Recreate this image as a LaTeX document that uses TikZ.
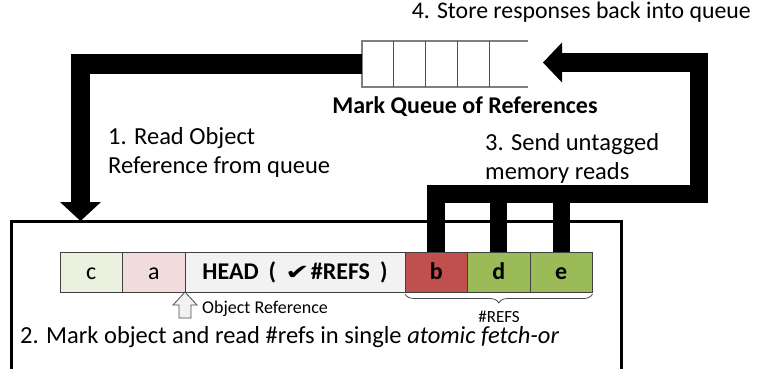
\documentclass[tikz,border=0pt]{standalone}
\usepackage{fontspec}
\setmainfont{Carlito}
\newfontfamily\symfont{DejaVu Sans}
\usetikzlibrary{positioning, arrows.meta, decorations.pathreplacing}

\definecolor{cellgreen}{HTML}{EBF1DE}
\definecolor{cellpink}{HTML}{F2DCDB}
\definecolor{cellgray}{HTML}{F2F2F2}
\definecolor{refred}{HTML}{C0504D}
\definecolor{refgreen}{HTML}{9BBB59}
\definecolor{qgray}{HTML}{7F7F7F}

\begin{document}
\begin{tikzpicture}[
    x=1pt, y=-1pt,
    every node/.style={font=\fontsize{24.5}{29}\selectfont, inner sep=0pt},
    cell/.style={draw=black!75, line width=1pt, minimum height=40pt, minimum width=62.5pt,
                 inner sep=0pt, outer sep=0pt, text height=15pt, text depth=0pt,
                 font=\fontsize{24}{28}\selectfont},
    boldcell/.style={cell, font={\fontsize{24}{28}\selectfont\bfseries}},
    band/.style={line width=19pt},
    bighead/.style={-{Triangle[length=19pt,width=41pt,line width=0pt]}},
    qline/.style={draw=qgray, line width=1.5pt}
]
\useasboundingbox (0,0) rectangle (757,369);

% ========== queue of references ==========
\node[minimum width=166pt, minimum height=46pt, inner sep=0pt, outer sep=0pt, anchor=west] (queue) at (362,64) {};
\draw[qline] (queue.north east) -- (queue.north west) -- (queue.south west) -- (queue.south east);
\foreach \x in {393,425,457,489} {
    \draw[qline, draw=black!70, line width=1pt] (\x,41) -- (\x,87);
}
\node[anchor=base, font={\fontsize{24}{28}\selectfont\bfseries}] (qlabel) at (465,113) {Mark Queue of References};

% ========== object in memory ==========
\draw[line width=3pt] (11,369) |- (621,221) -- (621,369);

\node[cell, fill=cellgreen, anchor=west] (c) at (60,272) {c};
\node[cell, fill=cellpink, right=0pt of c] (a) {a};
\node[boldcell, fill=cellgray, minimum width=220pt, right=0pt of a] (head)
    {HEAD\hspace{10pt}(\hspace{9pt}\scalebox{1.4}[1]{\symfont\fontsize{21}{24}\selectfont ✔}\hspace{1pt}\#REFS\hspace{10pt})};
\node[boldcell, fill=refred, right=0pt of head] (b) {b};
\node[boldcell, fill=refgreen, right=0pt of b] (d) {d};
\node[boldcell, fill=refgreen, right=0pt of d] (e) {e};

% object reference pointer
\draw[fill=cellgray, draw=black!70, line width=0.8pt] (a.south east) -- ++(12,13) -- ++(-6,0) -- ++(0,13)
    -- ++(-12,0) -- ++(0,-13) -- ++(-6,0) -- cycle;
\node[anchor=base west, font=\fontsize{18}{22}\selectfont] (objref) at (202,313) {Object Reference};

% #REFS brace
\draw[decorate, decoration={brace, mirror, amplitude=9pt}, draw=black!70, line width=0.8pt]
    ([yshift=-2pt]b.south west) -- ([yshift=-2pt]e.south east);
\node[anchor=base, font=\fontsize{17}{20}\selectfont] (refs) at (499,322) {\#REFS};

% ========== steps ==========
\coordinate (boxtop) at (80.5,221);
\draw[band, bighead] (queue.west) -| (boxtop);
\node[anchor=base west, align=left] (step1) at (108,173) {1. Read Object\\Reference from queue};

\node[anchor=base west] (step2) at (20,343) {2. Mark object and read \#refs in single \textit{atomic fetch-or}};

\coordinate (bus) at (699,193.5);
\coordinate (qin) at (543,62.5);
\draw[band, line width=18pt, -{Triangle[length=19pt,width=40pt,line width=0pt]}] (b.north) |- (bus) |- (qin);
\foreach \n in {d,e} {
    \draw[band, line width=17pt] (\n.north) -- (\n.north |- bus);
}
\node[anchor=base west, align=left] (step3) at (485,179) {3. Send untagged\\memory reads};

\node[anchor=base east, font=\fontsize{23.8}{28}\selectfont] (step4) at (751,19) {4. Store responses back into queue};

\end{tikzpicture}
\end{document}
